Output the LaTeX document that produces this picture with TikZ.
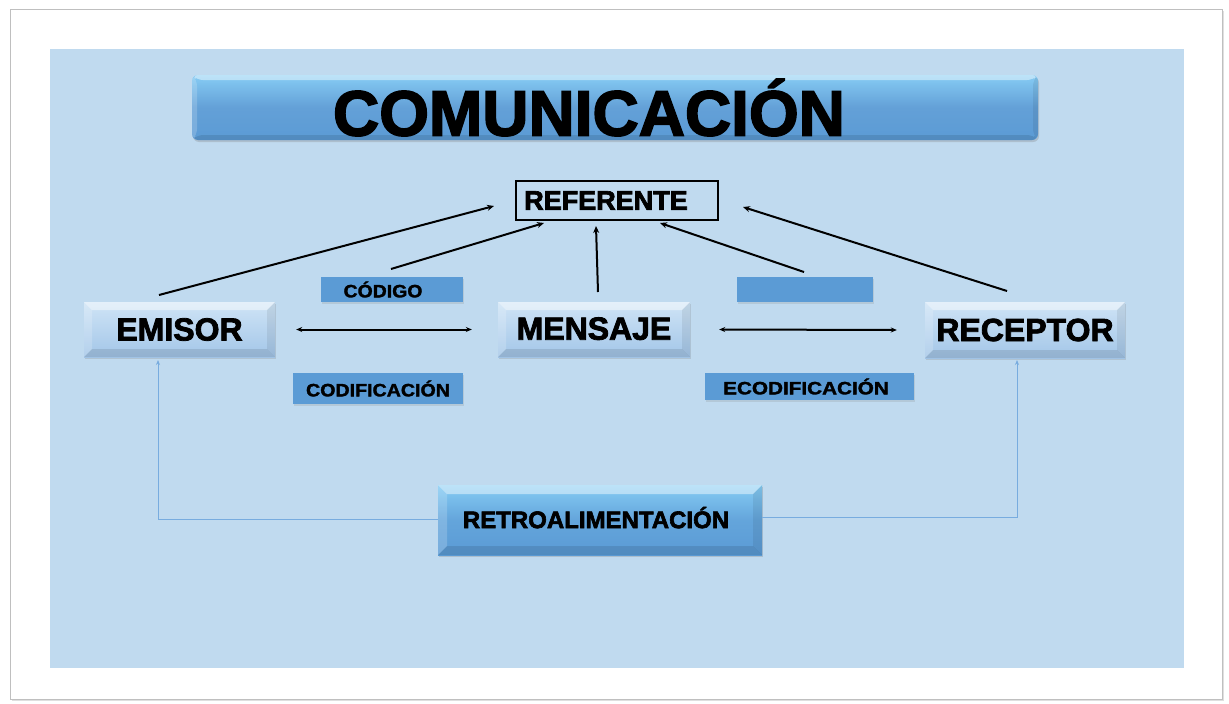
\documentclass[tikz,border=0pt]{standalone}
\usepackage{fontspec}
\setmainfont{Liberation Sans}
\newfontfamily\heavy{Liberation Sans}[BoldFeatures={FakeBold=2.5}]
\newfontfamily\semiheavy{Liberation Sans}[BoldFeatures={FakeBold=1.6}]
\newcommand\hstretch[2]{\scalebox{#1}[1]{#2}}
\usetikzlibrary{shadows,arrows.meta}
\definecolor{panel}{HTML}{C0DAEF}
\definecolor{lblue}{HTML}{5B9BD5}
\definecolor{boxtop}{HTML}{CFE4F6}
\definecolor{boxbot}{HTML}{A3C6E8}
\definecolor{rettop}{HTML}{86CCF4}
\definecolor{retbot}{HTML}{5B9BD5}
\definecolor{fbline}{HTML}{78ACDF}
\begin{document}
\begin{tikzpicture}[x=1pt,y=-1pt,
  bevel/.style={path picture={
    \coordinate (pnw) at (path picture bounding box.north west);
    \coordinate (pne) at (path picture bounding box.north east);
    \coordinate (psw) at (path picture bounding box.south west);
    \coordinate (pse) at (path picture bounding box.south east);
    \fill[white,opacity=.45] (pnw) -- (pne) -- ([shift={(-#1,-#1)}]pne) -- ([shift={(#1,-#1)}]pnw) -- cycle;
    \fill[white,opacity=.18] (pnw) -- ([shift={(#1,-#1)}]pnw) -- ([shift={(#1,#1)}]psw) -- (psw) -- cycle;
    \fill[black,opacity=.07] (pne) -- ([shift={(-#1,-#1)}]pne) -- ([shift={(-#1,#1)}]pse) -- (pse) -- cycle;
    \fill[black,opacity=.10] (psw) -- ([shift={(#1,#1)}]psw) -- ([shift={(-#1,#1)}]pse) -- (pse) -- cycle;
  }},
  bevel/.default=7pt,
  mainbox/.style={top color=boxtop, bottom color=boxbot, bevel=8pt, inner sep=0pt,
    font=\heavy\fontsize{32}{32}\selectfont\bfseries,
    drop shadow={shadow xshift=1pt, shadow yshift=-2pt, opacity=.25}},
  lbl/.style={fill=lblue, inner sep=0pt, font=\semiheavy\fontsize{18}{18}\selectfont\bfseries,
    drop shadow={shadow xshift=1pt, shadow yshift=-1.5pt, opacity=.2}},
  arr/.style={line width=2pt, -{Stealth[length=7pt,width=6pt]}},
  darr/.style={line width=2pt, {Stealth[length=6pt,width=5pt]}-{Stealth[length=6pt,width=5pt]}},
  fb/.style={draw=fbline, line width=0.9pt}
]
\useasboundingbox (0,0) rectangle (1229,704);
% outer frame
\fill[white] (0,0) rectangle (1229,704);
\draw[draw=black!25, fill=white, line width=0.8pt,
  drop shadow={shadow xshift=2pt, shadow yshift=-2pt, opacity=.25}] (10,9) rectangle (1222,699);
% panel
\fill[panel] (50,49) rectangle (1184,668);

% title bar
\node[rounded corners=6pt, top color=rettop, bottom color=lblue, middle color=lblue!95!white,
  bevel=5pt, minimum width=846pt, minimum height=65pt, inner sep=0pt,
  font=\heavy\fontsize{64}{64}\selectfont\bfseries,
  drop shadow={shadow xshift=1pt, shadow yshift=-2pt, opacity=.3}]
  (title) at (615,107.5) {\hspace*{-52pt}\raisebox{-4pt}{COMUNICACIÓN}};

% referente
\node[draw=black, line width=2pt, minimum width=202pt, minimum height=39pt, inner sep=0pt,
  font=\heavy\fontsize{27}{27}\selectfont\bfseries] (ref) at (617,200.5) {\hspace*{-22pt}REFERENTE};

% main boxes
\node[mainbox, minimum width=191pt, minimum height=55pt] (emisor) at (179.5,329.5) {EMISOR};
\node[mainbox, minimum width=192pt, minimum height=55pt] (mensaje) at (594,329.5) {\raisebox{2pt}{MENSAJE}};
\node[mainbox, minimum width=200pt, minimum height=56pt] (receptor) at (1025,330) {\raisebox{-2pt}{RECEPTOR}};

% labels
\node[lbl, minimum width=142pt, minimum height=25pt] (codigo) at (392,289.5) {\hspace*{-18pt}\hstretch{1.08}{CÓDIGO}};
\node[lbl, minimum width=136pt, minimum height=25pt] (blank) at (805,289.5) {};
\node[lbl, minimum width=170pt, minimum height=31pt] (codif) at (378,388.5) {\hstretch{1.09}{CODIFICACIÓN}};
\node[lbl, minimum width=209pt, minimum height=27pt] (ecodif) at (809.5,386.5) {\hspace*{-7pt}\hstretch{1.15}{ECODIFICACIÓN}};

% retroalimentacion
\node[top color=rettop, bottom color=retbot, middle color=lblue!80!rettop, bevel=9pt,
  minimum width=324pt, minimum height=70pt, inner sep=0pt,
  font=\heavy\fontsize{24}{24}\selectfont\bfseries,
  drop shadow={shadow xshift=1pt, shadow yshift=-2pt, opacity=.3}]
  (retro) at (600,520) {\hspace*{-8pt}\raisebox{5pt}{RETROALIMENTACIÓN}};

% arrow end coordinates
\coordinate (a1s) at (159,295);  \coordinate (a1e) at (494,206);
\coordinate (a2s) at (391,269);  \coordinate (a2e) at (544,223);
\coordinate (a3s) at (598,292);  \coordinate (a3e) at (596,226);
\coordinate (a4s) at (804,272);  \coordinate (a4e) at (660,223);
\coordinate (a5s) at (1007,291); \coordinate (a5e) at (743,207);
\draw[arr] (a1s) -- (a1e);
\draw[arr] (a2s) -- (a2e);
\draw[arr] (a3s) -- (a3e);
\draw[arr] (a4s) -- (a4e);
\draw[arr] (a5s) -- (a5e);

% horizontal double arrows
\draw[darr] ([xshift=21pt]emisor.east) -- ([xshift=-26pt]mensaje.west);
\draw[darr] ([xshift=29pt]mensaje.east) -- ([xshift=-28pt]receptor.west);

% feedback lines
\coordinate (fbl) at (158,519);
\coordinate (fbr) at (1017,517);
\coordinate (fblt) at (158,360);
\coordinate (fbrt) at (1017,360);
\draw[fb, -{Stealth[length=5pt,width=4pt]}] (retro.west |- fbl) -- (fbl) -- (fblt);
\draw[fb, -{Stealth[length=5pt,width=4pt]}] (retro.east |- fbr) -- (fbr) -- (fbrt);
\end{tikzpicture}
\end{document}
